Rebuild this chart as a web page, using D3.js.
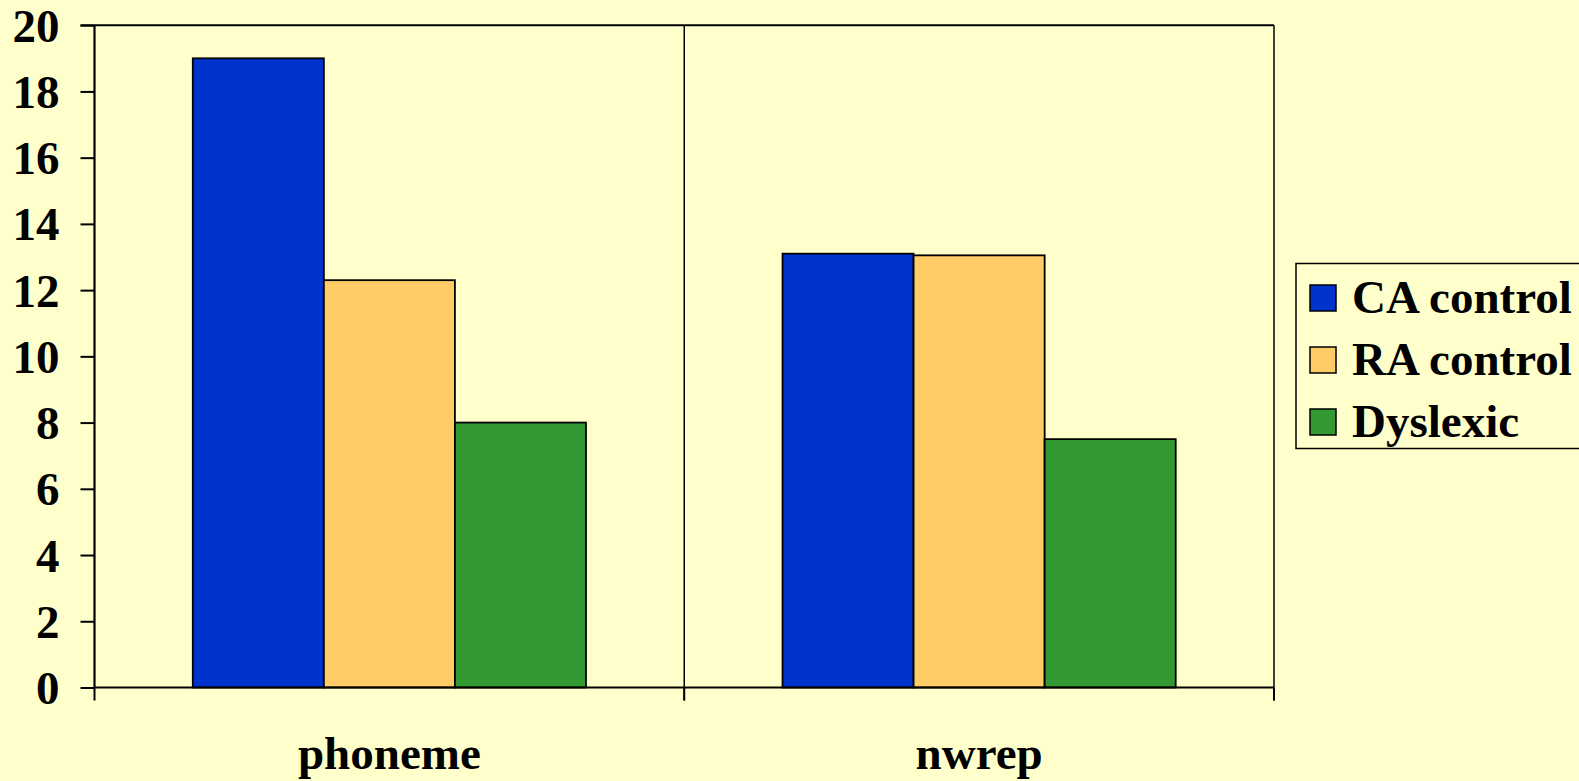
<!DOCTYPE html>
<html>
<head>
<meta charset="utf-8">
<script src="https://cdn.jsdelivr.net/npm/d3@7"></script>
<style>
  html, body { margin: 0; padding: 0; background: #FFFFCC; overflow: hidden; }
  svg { display: block; }
  text { font-family: "Liberation Serif", "Times New Roman", serif; font-weight: bold; fill: #000; }
</style>
</head>
<body>
<svg id="chart" width="1579" height="781"></svg>
<script>
// Chart data
const categories = ["phoneme", "nwrep"];
const seriesNames = ["CA control", "RA control", "Dyslexic"];
const caControl = [19.0, 13.1];
const raControl = [12.3, 13.05];
const dyslexic = [8.0, 7.5];
const yTicks = [0, 2, 4, 6, 8, 10, 12, 14, 16, 18, 20];
const seriesColors = ["#0033CC", "#FFCC66", "#339933"];

const seriesValues = [caControl, raControl, dyslexic];
const rows = categories.map((c, i) => ({
  category: c,
  values: seriesNames.map((s, j) => ({ series: s, value: seriesValues[j][i], color: seriesColors[j] }))
}));

const svg = d3.select("#chart");
const W = 1579, H = 781;
svg.append("rect").attr("width", W).attr("height", H).attr("fill", "#FFFFCC");

const plot = { left: 94.5, right: 1274, top: 25.2, bottom: 687.5 };
const fontSize = 47;

const x0 = d3.scaleBand().domain(categories).range([plot.left, plot.right]).paddingInner(0).paddingOuter(0);
const x1 = d3.scaleBand().domain(seriesNames).range([0, x0.bandwidth()]).paddingInner(0).paddingOuter(0.75);
const y = d3.scaleLinear().domain([0, 20]).range([plot.bottom, plot.top]);

// Top border and category separators
const g = svg.append("g");
g.append("line")
  .attr("x1", plot.left - 14).attr("x2", plot.right)
  .attr("y1", y(20)).attr("y2", y(20))
  .attr("stroke", "#000").attr("stroke-width", 2);
categories.forEach(c => {
  const xr = x0(c) + x0.bandwidth();
  g.append("line")
    .attr("x1", xr).attr("x2", xr)
    .attr("y1", y(20)).attr("y2", plot.bottom + 13)
    .attr("stroke", "#000").attr("stroke-width", 1.5);
});

// Bars
const groups = svg.append("g").selectAll("g")
  .data(rows).join("g")
  .attr("transform", d => `translate(${x0(d.category)},0)`);
groups.selectAll("rect")
  .data(d => d.values).join("rect")
  .attr("x", d => x1(d.series))
  .attr("y", d => y(d.value))
  .attr("width", x1.bandwidth())
  .attr("height", d => y(0) - y(d.value))
  .attr("fill", d => d.color)
  .attr("stroke", "#000")
  .attr("stroke-width", 1.8);

// Y axis
const yAxis = svg.append("g")
  .attr("transform", `translate(${plot.left},0)`)
  .call(d3.axisLeft(y).tickValues(yTicks).tickSize(14).tickPadding(21).tickFormat(d3.format("d")));
yAxis.select(".domain").attr("stroke", "#000").attr("stroke-width", 2.2).attr("d", `M0,${plot.top}V${plot.bottom}`);
yAxis.selectAll(".tick line").attr("stroke", "#000").attr("stroke-width", 2);
yAxis.selectAll(".tick text")
  .attr("font-size", fontSize)
  .attr("font-family", "'Liberation Serif', 'Times New Roman', serif")
  .attr("font-weight", "bold")
  .attr("fill", "#000")
  .attr("dy", "0.34em");

// X axis line with ticks at category boundaries
const xAxis = svg.append("g");
xAxis.append("line")
  .attr("x1", plot.left).attr("x2", plot.right)
  .attr("y1", y(0)).attr("y2", y(0))
  .attr("stroke", "#000").attr("stroke-width", 2.2);
const boundaries = [plot.left].concat(categories.map(c => x0(c) + x0.bandwidth()));
xAxis.selectAll("line.tick").data(boundaries).join("line")
  .attr("class", "tick")
  .attr("x1", d => d).attr("x2", d => d)
  .attr("y1", y(0)).attr("y2", y(0) + 13)
  .attr("stroke", "#000").attr("stroke-width", 2);
xAxis.selectAll("text").data(categories).join("text")
  .attr("x", d => x0(d) + x0.bandwidth() / 2)
  .attr("y", 769)
  .attr("text-anchor", "middle")
  .attr("font-size", fontSize)
  .text(d => d);

// Legend
const legend = svg.append("g");
legend.append("rect")
  .attr("x", 1296).attr("y", 263.5)
  .attr("width", 320).attr("height", 185)
  .attr("fill", "#FFFFCC").attr("stroke", "#000").attr("stroke-width", 1.5);
const items = legend.selectAll("g.item").data(seriesNames).join("g")
  .attr("class", "item")
  .attr("transform", (d, i) => `translate(1310,${285 + i * 62})`);
items.append("rect")
  .attr("width", 26).attr("height", 26)
  .attr("fill", (d, i) => seriesColors[i])
  .attr("stroke", "#000").attr("stroke-width", 1.5);
items.append("text")
  .attr("x", 42).attr("y", 28)
  .attr("font-size", fontSize)
  .text(d => d);
</script>
</body>
</html>
